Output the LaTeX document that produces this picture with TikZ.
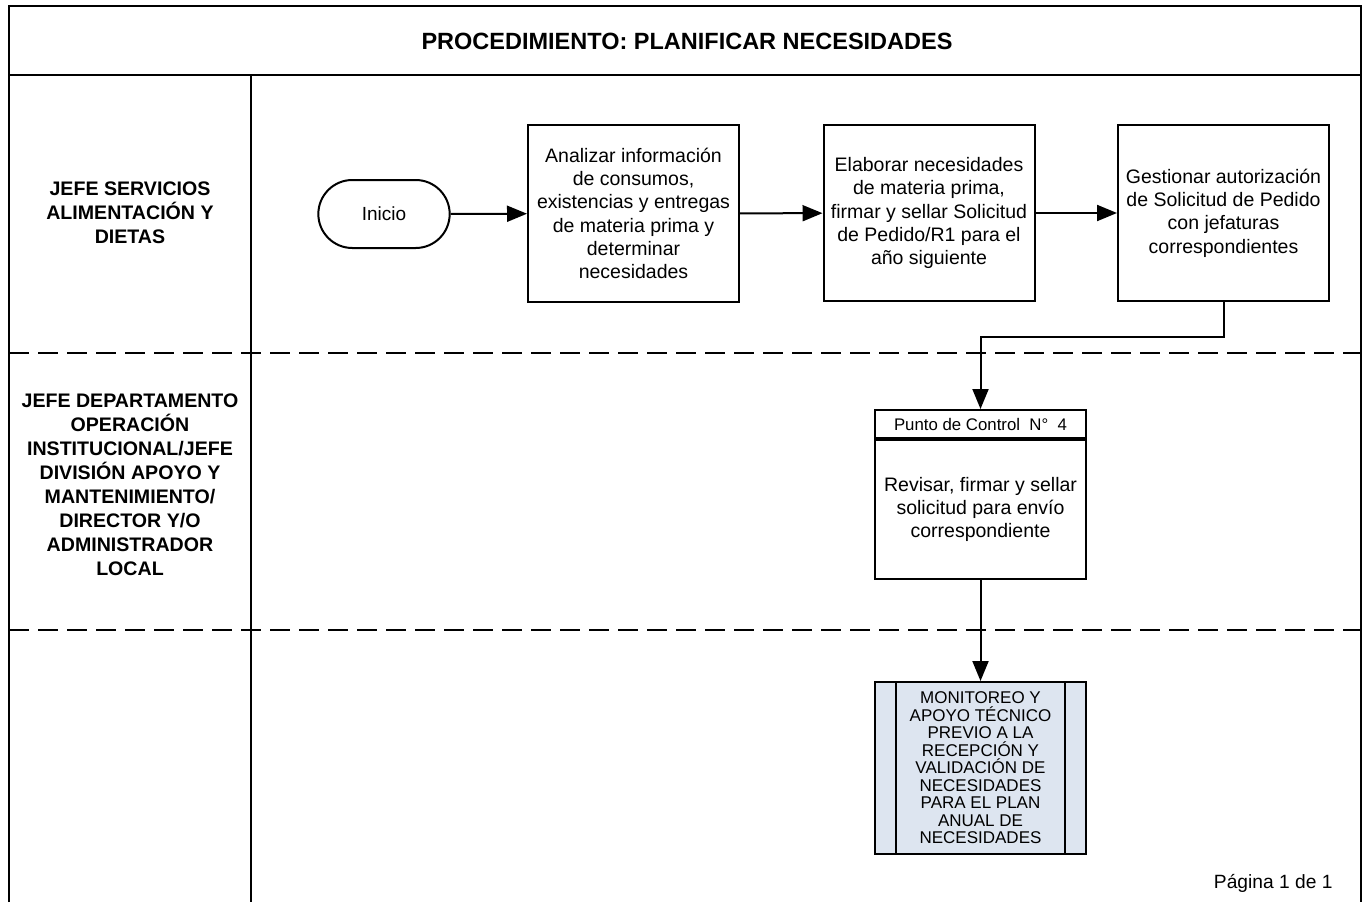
\documentclass[tikz,border=0pt]{standalone}
\usepackage{fontspec}
\setmainfont{Liberation Sans}
\usetikzlibrary{arrows.meta,shapes.misc}
\definecolor{subfill}{RGB}{221,229,240}
\begin{document}
\begin{tikzpicture}[x=1pt,y=-1pt,
  frame/.style={line width=2pt},
  lanesep/.style={line width=2pt,dash pattern=on 20pt off 9pt},
  proc/.style={draw,line width=2pt,minimum width=211pt,align=center,inner sep=0pt,
     font=\fontsize{19.5}{23.3}\selectfont},
  lanelabel/.style={align=center,font=\bfseries\fontsize{19.6}{24}\selectfont},
  conn/.style={line width=2pt,-{Triangle[length=20pt,width=16pt]}}]
\useasboundingbox (0,0) rectangle (1364,902);
% frame
\draw[frame] (9,902) -- (9,6) -- (1361,6) -- (1361,902);
\draw[frame] (9,75) -- (1361,75);
\draw[frame] (251,75) -- (251,902);
\draw[lanesep] (9,353) -- (1361,353);
\draw[lanesep] (9,630) -- (1361,630);
\node[font=\bfseries\fontsize{23.5}{27}\selectfont] (title) at (687,41) {PROCEDIMIENTO: PLANIFICAR NECESIDADES};
\node[lanelabel] (lane1) at (130,213) {JEFE SERVICIOS\\ALIMENTACIÓN Y\\DIETAS};
\node[lanelabel] (lane2) at (130,485) {JEFE DEPARTAMENTO\\OPERACIÓN\\INSTITUCIONAL/JEFE\\DIVISIÓN APOYO Y\\MANTENIMIENTO/\\DIRECTOR Y/O\\ADMINISTRADOR\\LOCAL};
% nodes
\node[draw,line width=2pt,rounded rectangle,minimum width=138pt,minimum height=68pt,
  font=\fontsize{19}{23}\selectfont] (inicio) at (384,214) {Inicio};
\node[proc,minimum height=177pt] (b1) at (633.5,213.5) {Analizar información\\de consumos,\\existencias y entregas\\de materia prima y\\determinar\\necesidades};
\node[proc,minimum height=176pt] (b2) at (929,213) {Elaborar necesidades\\de materia prima,\\firmar y sellar Solicitud\\de Pedido/R1 para el\\año siguiente};
\node[proc,minimum height=176pt] (b3) at (1223.5,213) {Gestionar autorización\\de Solicitud de Pedido\\con jefaturas\\correspondientes};
% control point box
\node[draw,line width=2pt,minimum width=211pt,minimum height=28pt,inner sep=0pt,
  font=\fontsize{16.8}{19}\selectfont] (pch) at (980.5,424) {Punto de Control\ \ N°\ \ 4};
\node[proc,minimum height=139pt,anchor=north] (pc) at (pch.south) {Revisar, firmar y sellar\\solicitud para envío\\correspondiente};
% subprocess
\node[draw,line width=2pt,fill=subfill,minimum width=211pt,minimum height=172pt,inner sep=0pt,align=center,
  font=\fontsize{17}{17.5}\selectfont] (sub) at (980.5,768) {MONITOREO Y\\APOYO TÉCNICO\\PREVIO A LA\\RECEPCIÓN Y\\VALIDACIÓN DE\\NECESIDADES\\PARA EL PLAN\\ANUAL DE\\NECESIDADES};
\draw[line width=2pt] ([xshift=22pt]sub.north west) -- ([xshift=22pt]sub.south west);
\draw[line width=2pt] ([xshift=-22pt]sub.north east) -- ([xshift=-22pt]sub.south east);
% connectors
\draw[conn] (inicio) -- (b1);
\draw[conn] (b1) -- (b2);
\draw[conn] (b2) -- (b3);
\coordinate (bend1) at (1223.5,337);
\coordinate (bend2) at (980.5,337);
\draw[conn] (b3.south) -- (bend1) -- (bend2) -- (pch.north);
\draw[conn] (pc.south) -- (sub.north);
\node[font=\fontsize{19.2}{23}\selectfont,anchor=east] (page) at (1336,883) {Página 1 de 1};
\end{tikzpicture}
\end{document}
